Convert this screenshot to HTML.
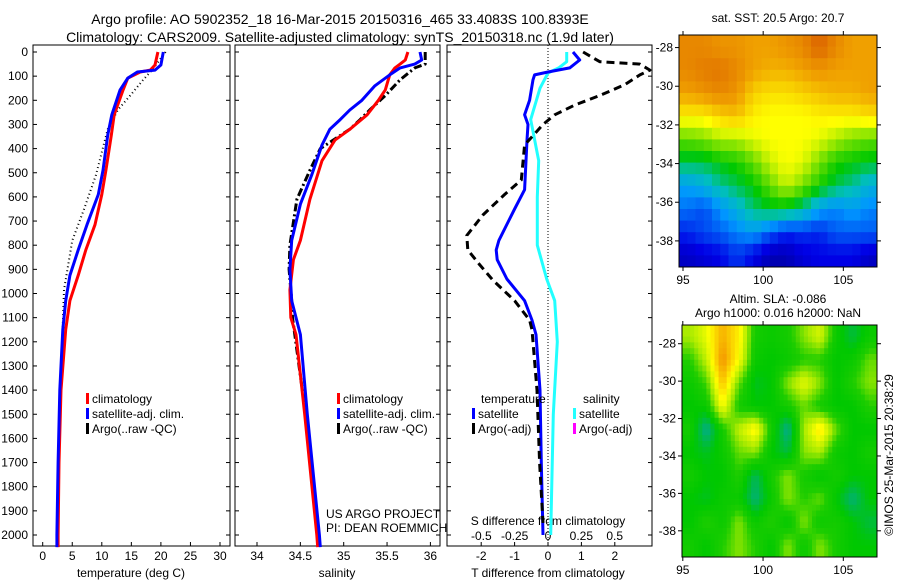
<!DOCTYPE html>
<html><head><meta charset="utf-8"><style>
body{margin:0;background:#fff}
svg{display:block;font-family:"Liberation Sans",sans-serif}
text{font-size:12px;fill:#000}
</style></head><body>
<svg id="c" width="900" height="580"></svg>
<script>
const tDepths=[0,54,75,83,108,157,260,345,490,590,715,820,925,1030,1150,1400,1700,2000,2050];
const tempClim=[19.5,19.0,18.2,16.5,14.4,13.6,12.1,11.6,10.7,10.0,8.85,7.3,6.0,4.6,3.9,3.1,2.75,2.6,2.6];
const tempSat=[20.4,20.0,19.0,16.0,14.4,13.1,11.7,11.0,10.2,9.4,7.5,6.0,4.6,3.9,3.4,2.9,2.6,2.4,2.4];
const argoDepths=[0,75,115,180,240,320,510,650,780,985,1200,1500,2000];
const tempArgo=[20.8,18.5,17.0,14.8,12.7,11.0,9.0,7.0,5.0,3.6,3.3,2.8,2.4];
const sDepths=[0,33,50,66,95,157,200,260,320,365,450,610,780,860,985,1100,1170,1500,2000,2050];
const salClim=[35.74,35.71,35.65,35.59,35.53,35.48,35.40,35.27,35.07,34.90,34.75,34.61,34.50,34.42,34.38,34.39,34.45,34.55,34.69,34.70];
const sDepthsSat=[0,33,50,66,95,140,200,240,280,320,385,510,630,780,900,1030,1170,1500,2000,2050];
const salSat=[35.88,35.90,35.82,35.65,35.53,35.36,35.21,35.07,34.96,34.84,34.75,34.63,34.50,34.40,34.38,34.40,34.50,34.58,34.72,34.73];
const salArgoDepths=[0,50,66,115,180,240,280,320,400,490,610,800,900,1030,1100,1500,2000];
const salArgo=[35.94,35.94,35.82,35.65,35.48,35.30,35.19,35.07,34.73,34.61,34.46,34.38,34.37,34.40,34.41,34.56,34.71];
const dTDepths=[0,33,66,83,95,115,200,260,300,365,570,650,780,820,860,940,1030,1110,1170,1400,1700,2000];
const dTsat=[0.75,0.95,0.65,0.0,-0.4,-0.45,-0.55,-0.7,-0.6,-0.63,-0.7,-1.0,-1.47,-1.55,-1.52,-1.23,-0.7,-0.48,-0.36,-0.24,-0.2,-0.15];
const dTargoDepths=[0,40,50,75,95,135,180,220,260,300,385,530,590,675,760,820,880,945,1030,1110,1150,1400,1700,1950];
const dTargo=[1.05,1.55,2.75,3.05,2.75,2.3,1.55,0.8,0.2,-0.15,-0.7,-0.8,-1.3,-1.95,-2.43,-2.4,-2.05,-1.65,-1.0,-0.55,-0.48,-0.33,-0.25,-0.15];
const dSDepths=[0,40,66,87,150,280,450,600,800,940,1030,1200,1500,2000];
const dSsat=[0.14,0.14,0.08,0.0,-0.06,-0.13,-0.07,-0.08,-0.08,-0.01,0.05,0.07,0.04,0.02];
const depthTicks=[0,100,200,300,400,500,600,700,800,900,1000,1100,1200,1300,1400,1500,1600,1700,1800,1900,2000];
const tempTicks=[0,5,10,15,20,25,30];
const salTicks=[34,34.5,35,35.5,36];
const salTickLabels=["34","34.5","35","35.5","36"];
const dTTicks=[-2,-1,0,1,2];
const dSTicks=[-0.5,-0.25,0,0.25,0.5];
const dSTickLabels=["-0.5","-0.25","0","0.25","0.5"];
const latTicks=[-28,-30,-32,-34,-36,-38];
const lonTicks=[95,100,105];
const sstGrid=[
[.84,.84,.82,.82,.8,.8,.82,.84,.9,.84,.8,.8],
[.84,.86,.87,.84,.8,.78,.78,.8,.82,.8,.8,.8],
[.8,.82,.84,.82,.74,.72,.72,.74,.76,.78,.78,.8],
[.7,.7,.74,.76,.7,.68,.68,.68,.7,.7,.7,.72],
[.56,.58,.62,.62,.66,.68,.68,.68,.66,.62,.58,.56],
[.44,.44,.48,.5,.56,.64,.68,.66,.58,.5,.48,.46],
[.3,.34,.4,.44,.48,.56,.64,.58,.5,.44,.4,.34],
[.24,.2,.28,.34,.42,.46,.46,.4,.3,.26,.3,.26],
[.16,.2,.22,.26,.3,.22,.16,.18,.16,.22,.22,.22],
[.08,.1,.12,.18,.12,.06,.06,.1,.12,.12,.12,.08]];
const slaGrid=[
[.6,.66,.78,.7,.5,.48,.5,.58,.64,.48,.42,.48],
[.52,.62,.82,.68,.48,.46,.48,.52,.52,.46,.48,.56],
[.48,.54,.76,.56,.44,.46,.58,.66,.58,.46,.52,.58],
[.46,.48,.68,.5,.46,.46,.5,.56,.5,.46,.46,.52],
[.5,.36,.5,.62,.7,.5,.36,.6,.72,.56,.46,.46],
[.46,.44,.48,.56,.58,.46,.42,.58,.6,.48,.46,.5],
[.5,.46,.46,.52,.4,.5,.58,.5,.46,.5,.46,.46],
[.46,.44,.48,.48,.38,.48,.58,.52,.56,.46,.38,.46],
[.46,.52,.48,.58,.48,.52,.46,.58,.48,.5,.46,.42],
[.5,.46,.52,.58,.52,.46,.58,.48,.58,.5,.46,.46]];

const NS='http://www.w3.org/2000/svg';
const svg=document.getElementById('c');
function mk(tag,attrs,parent){const e=document.createElementNS(NS,tag);for(const k in attrs)e.setAttribute(k,attrs[k]);(parent||svg).appendChild(e);return e;}
function txt(x,y,s,anchor,size){const t=mk('text',{x:x,y:y,'text-anchor':anchor||'start'});if(size)t.style.fontSize=size+'px';t.textContent=s;return t;}

const Y0=52,YK=0.2415,TOP=45,BOT=546;
const yD=d=>Y0+d*YK;
const xT=v=>42.7+v*5.91;
const xS=v=>257+(v-34)*86.7;
const xDT=v=>548+v*33.4;
const xDS=v=>548+v*133.4;

function frame(x1,x2,name){
  const r=mk('rect',{x:x1,y:TOP,width:x2-x1,height:BOT-TOP,fill:'none',stroke:'#000','stroke-width':1});
  
  
  depthTicks.forEach(d=>{mk('line',{x1:x1,x2:x1+4,y1:yD(d),y2:yD(d),stroke:'#000'});mk('line',{x1:x2-4,x2:x2,y1:yD(d),y2:yD(d),stroke:'#000'});});
}
function series(xs,ds,xf,attrs,name){
  let p='';xs.forEach((v,i)=>{p+=(i?'L':'M')+xf(v).toFixed(1)+','+yD(ds[i]).toFixed(1);});
  const e=mk('path',Object.assign({d:p,fill:'none','stroke-linejoin':'round'},attrs));
  
  
}

let t=txt(340,24,'Argo profile: AO 5902352_18 16-Mar-2015 20150316_465 33.4083S 100.8393E','middle',14);

t=txt(340,42,'Climatology: CARS2009. Satellite-adjusted climatology: synTS_20150318.nc (1.9d later)','middle',14);


// Panel 1
frame(33,230,'temperature-panel');
depthTicks.forEach(d=>{const e=txt(28,yD(d)+4,String(d),'end');});
tempTicks.forEach(v=>{mk('line',{x1:xT(v),x2:xT(v),y1:BOT,y2:BOT-4,stroke:'#000'});const e=txt(xT(v),560,String(v),'middle');});
t=txt(131,577,'temperature (deg C)','middle');
series(tempArgo,argoDepths,xT,{stroke:'#000','stroke-width':2,'stroke-dasharray':'1 3'},'argo-temp-line');
series(tempClim,tDepths,xT,{stroke:'#f00','stroke-width':3},'clim-temp-line');
series(tempSat,tDepths,xT,{stroke:'#00f','stroke-width':3},'sat-temp-line');
function legend(x,y,items,name){
  const g=mk('g',{});
  items.forEach((it,i)=>{mk('rect',{x:x,y:y+i*15-9,width:3,height:11,fill:it[0]},g);const e=txt(x+6,y+i*15+1,it[1]);g.appendChild(e);});
}
legend(86,402,[['#f00','climatology'],['#00f','satellite-adj. clim.'],['#000','Argo(..raw -QC)']],'temperature-legend');

// Panel 2
frame(235,440,'salinity-panel');
salTicks.forEach((v,i)=>{mk('line',{x1:xS(v),x2:xS(v),y1:BOT,y2:BOT-4,stroke:'#000'});const e=txt(xS(v),560,salTickLabels[i],'middle');});
t=txt(337,577,'salinity','middle');
series(salArgo,salArgoDepths,xS,{stroke:'#000','stroke-width':3,'stroke-dasharray':'8 3 2 3'},'argo-sal-line');
series(salClim,sDepths,xS,{stroke:'#f00','stroke-width':3},'clim-sal-line');
series(salSat,sDepthsSat,xS,{stroke:'#00f','stroke-width':3},'sat-sal-line');
legend(337,402,[['#f00','climatology'],['#00f','satellite-adj. clim.'],['#000','Argo(..raw -QC)']],'salinity-legend');
t=txt(326,518,'US ARGO PROJECT');
t=txt(326,532,'PI: DEAN ROEMMICH');

// Panel 3
frame(447,652,'difference-panel');
mk('line',{x1:xDT(0),x2:xDT(0),y1:TOP,y2:BOT,stroke:'#000','stroke-dasharray':'1 2'});
dTTicks.forEach(v=>{mk('line',{x1:xDT(v),x2:xDT(v),y1:BOT,y2:BOT-4,stroke:'#000'});const e=txt(xDT(v),560,String(v),'middle');});
dSTicks.forEach((v,i)=>{const e=txt(xDS(v),540,dSTickLabels[i],'middle');});
t=txt(548,525,'S difference from climatology','middle');
t=txt(548,577,'T difference from climatology','middle');
const clip=mk('clipPath',{id:'p3'});mk('rect',{x:447,y:TOP,width:205,height:BOT-TOP},clip);
series(dSsat,dSDepths,xDS,{stroke:'#2ff','stroke-width':3},'sat-sal-diff-line');
series(dTsat,dTDepths,xDT,{stroke:'#00f','stroke-width':3},'sat-temp-diff-line');
series(dTargo,dTargoDepths,xDT,{stroke:'#000','stroke-width':3,'stroke-dasharray':'8 5','clip-path':'url(#p3)'},'argo-temp-diff-line');
legend(472,417,[['#00f','satellite'],['#000','Argo(-adj)']],'temp-diff-legend');
t=txt(481,403,'temperature');
legend(573,417,[['#2ff','satellite'],['#f0f','Argo(-adj)']],'sal-diff-legend');
t=txt(583,403,'salinity');

// colormaps
const stopsSST=[[0,[0,0,128]],[.12,[0,0,230]],[.28,[0,150,255]],[.38,[0,190,190]],[.48,[0,200,0]],[.58,[120,225,0]],[.68,[255,255,0]],[.8,[240,160,0]],[.9,[220,100,0]],[1,[160,0,0]]];
const stopsSLA=[[0,[0,0,200]],[.36,[0,170,150]],[.46,[0,200,0]],[.52,[30,205,0]],[.6,[170,235,0]],[.68,[255,255,0]],[.8,[245,160,0]],[1,[200,60,0]]];
function cmap(stops,v){for(let i=1;i<stops.length;i++){if(v<=stops[i][0]){const a=stops[i-1],b=stops[i],f=(v-a[0])/(b[0]-a[0]);return 'rgb('+a[1].map((c,k)=>Math.round(c+(b[1][k]-c)*f)).join(',')+')';}}return 'rgb('+stops[stops.length-1][1].join(',')+')';}

function map(grid,stops,sub,x1,y1,x2,y2,lonA,lonB,latA,latB,name,cellName){
  const g=mk('g',{});
  const rows=grid.length,cols=grid[0].length,R=rows*sub,C=cols*sub,cw=(x2-x1)/C,ch=(y2-y1)/R;
  for(let r=0;r<R;r++)for(let c=0;c<C;c++){
    const fy=Math.min(Math.max((r+0.5)/sub-0.5,0),rows-1),fx=Math.min(Math.max((c+0.5)/sub-0.5,0),cols-1);
    const r0=Math.floor(fy),c0=Math.floor(fx),r1=Math.min(r0+1,rows-1),c1=Math.min(c0+1,cols-1),dy=fy-r0,dx=fx-c0;
    const v=grid[r0][c0]*(1-dx)*(1-dy)+grid[r0][c1]*dx*(1-dy)+grid[r1][c0]*(1-dx)*dy+grid[r1][c1]*dx*dy;
    const e=mk('rect',{x:x1+c*cw,y:y1+r*ch,width:cw+0.5,height:ch+0.5,fill:cmap(stops,v)},g);
    
    
  }
  mk('rect',{x:x1,y:y1,width:x2-x1,height:y2-y1,fill:'none',stroke:'#000'},g);
  const lx=l=>x1+(l-lonA)/(lonB-lonA)*(x2-x1), ly=l=>y1+(latA-l)/(latA-latB)*(y2-y1);
  latTicks.forEach(l=>{const y=ly(l);mk('line',{x1:x1-4,x2:x1,y1:y,y2:y,stroke:'#000'},g);mk('line',{x1:x2,x2:x2+4,y1:y,y2:y,stroke:'#000'},g);g.appendChild(txt(x1-6,y+4,String(l),'end'));});
  lonTicks.forEach(l=>{const x=lx(l);mk('line',{x1:x,x2:x,y1:y2,y2:y2+4,stroke:'#000'},g);mk('line',{x1:x,x2:x,y1:y1-4,y2:y1,stroke:'#000'},g);g.appendChild(txt(x,y2+17,String(l),'middle'));});
}
map(sstGrid,stopsSST,2,679,35,877,267,94.75,107.1,-27.35,-39.35,'sst-map','sst-cell');
t=txt(778,22,'sat. SST: 20.5 Argo: 20.7','middle');
map(slaGrid,stopsSLA,4,682,325,877,557,94.95,107.1,-27.0,-39.4,'sla-map','sla-cell');
t=txt(778,303,'Altim. SLA: -0.086','middle');
t=txt(778,317,'Argo h1000: 0.016 h2000: NaN','middle');
t=txt(0,0,'©IMOS 25-Mar-2015 20:38:29','middle');t.setAttribute('transform','translate(893,455) rotate(-90)');

</script>
</body></html>
